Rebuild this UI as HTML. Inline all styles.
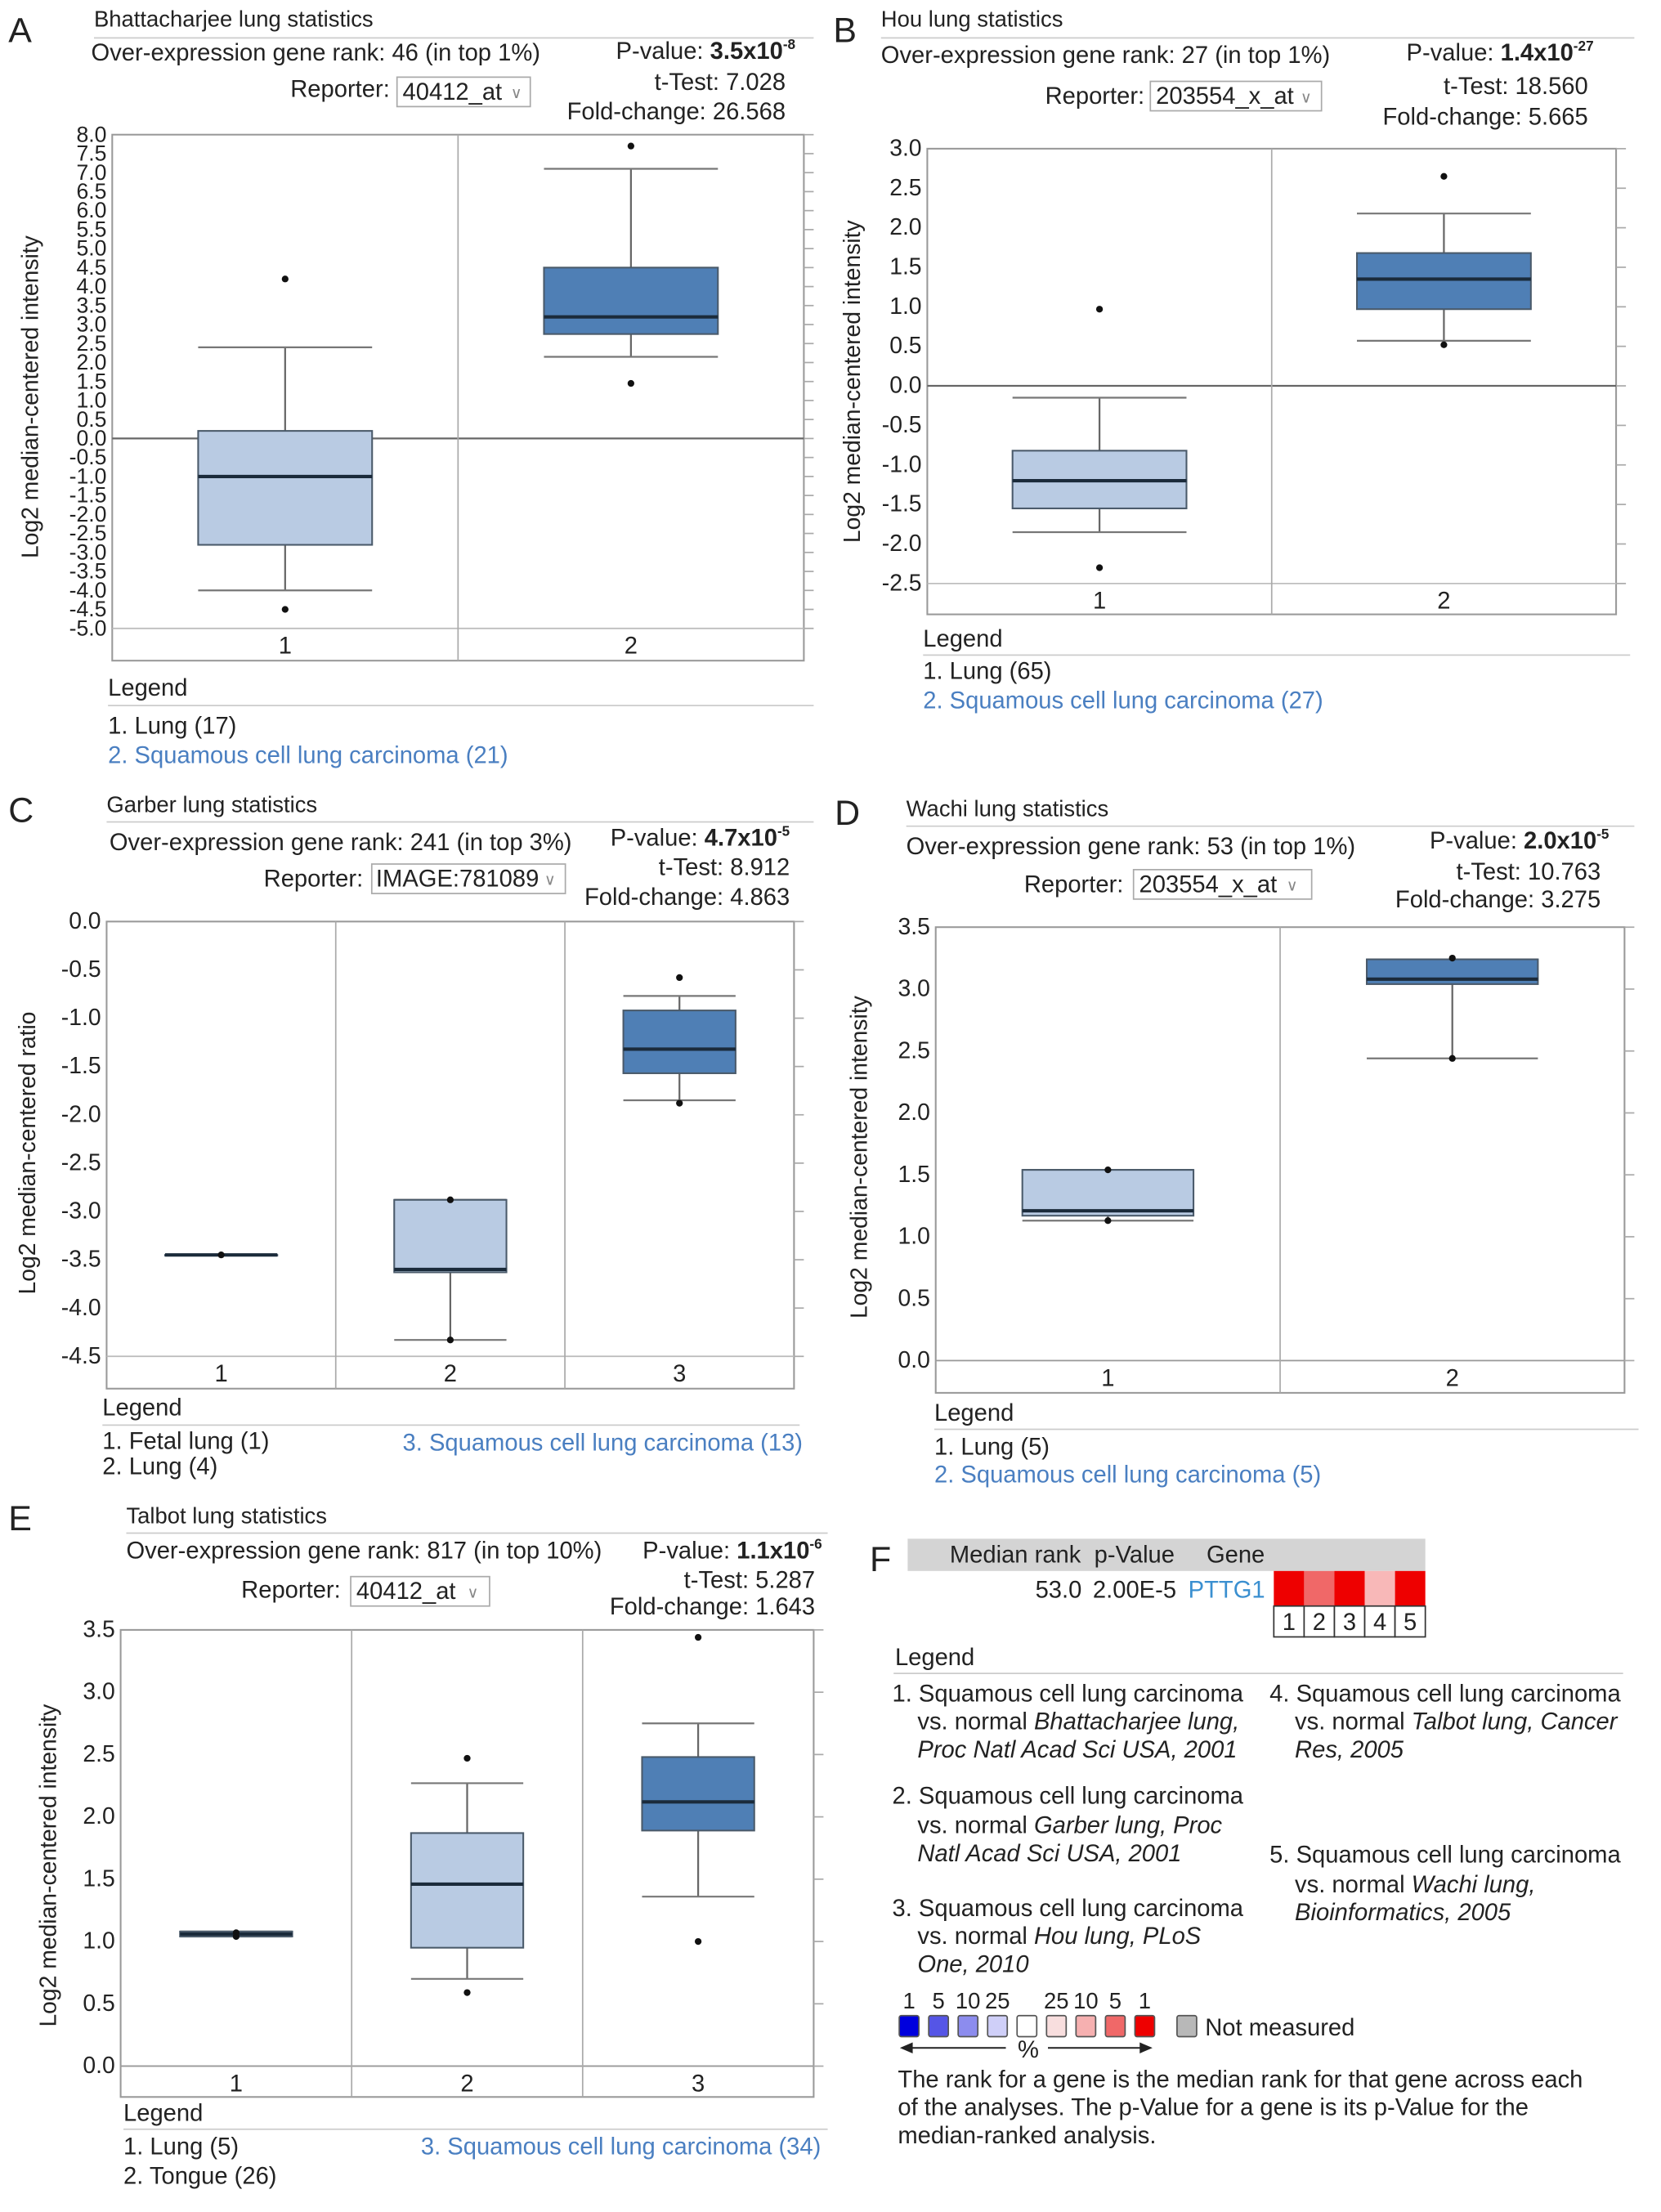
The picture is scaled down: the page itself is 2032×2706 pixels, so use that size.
<!DOCTYPE html>
<html><head><meta charset="utf-8">
<style>
html,body{margin:0;padding:0;background:#fff;}
svg{display:block;font-family:"Liberation Sans",Arial,sans-serif;}
</style></head>
<body>
<svg id="fig" xmlns="http://www.w3.org/2000/svg" width="2032" height="2706" viewBox="0 0 1184 1577" preserveAspectRatio="none">
<rect width="1184" height="1577" fill="#fff"/>
<!-- Panel A header -->
<g font-size="17" fill="#222">
<text x="6" y="30" font-size="25">A</text>
<text x="67" y="19" font-size="16">Bhattacharjee lung statistics</text>
<line x1="67" y1="27" x2="580" y2="27" stroke="#ccc"/>
<text x="65" y="43">Over-expression gene rank: 46 (in top 1%)</text>
<text x="567" y="42" text-anchor="end">P-value:  <tspan font-weight="bold">3.5x10</tspan><tspan font-weight="bold" font-size="10" dy="-7">-8</tspan></text>
<text x="207" y="69">Reporter:</text>
<rect x="283" y="55" width="95" height="21" fill="#fff" stroke="#aaa"/>
<text x="287" y="71">40412_at</text><text x="364" y="70" font-size="11" fill="#888">∨</text>
<text x="560" y="64" text-anchor="end">t-Test: 7.028</text>
<text x="560" y="85" text-anchor="end">Fold-change: 26.568</text>
<text x="77" y="496">Legend</text>
<line x1="77" y1="503" x2="580" y2="503" stroke="#ccc"/>
<text x="77" y="523">1. Lung (17)</text>
<text x="77" y="544" fill="#4a7fc1">2. Squamous cell lung carcinoma (21)</text>
</g>
<!-- Panel B header -->
<g font-size="17" fill="#222">
<text x="594" y="30" font-size="25">B</text>
<text x="628" y="19" font-size="16">Hou lung statistics</text>
<line x1="628" y1="27" x2="1165" y2="27" stroke="#ccc"/>
<text x="628" y="45">Over-expression gene rank: 27 (in top 1%)</text>
<text x="1136" y="43" text-anchor="end">P-value:  <tspan font-weight="bold">1.4x10</tspan><tspan font-weight="bold" font-size="10" dy="-7">-27</tspan></text>
<text x="745" y="74">Reporter:</text>
<rect x="820" y="58" width="122" height="21" fill="#fff" stroke="#aaa"/>
<text x="824" y="74">203554_x_at</text><text x="927" y="73" font-size="11" fill="#888">∨</text>
<text x="1132" y="67" text-anchor="end">t-Test: 18.560</text>
<text x="1132" y="89" text-anchor="end">Fold-change: 5.665</text>
<text x="658" y="461">Legend</text>
<line x1="658" y1="467" x2="1162" y2="467" stroke="#ccc"/>
<text x="658" y="484">1. Lung (65)</text>
<text x="658" y="505" fill="#4a7fc1">2. Squamous cell lung carcinoma (27)</text>
</g>
<!-- Panel C header -->
<g font-size="17" fill="#222">
<text x="6" y="586" font-size="25">C</text>
<text x="76" y="579" font-size="16">Garber lung statistics</text>
<line x1="76" y1="586" x2="580" y2="586" stroke="#ccc"/>
<text x="78" y="606">Over-expression gene rank: 241 (in top 3%)</text>
<text x="563" y="603" text-anchor="end">P-value: <tspan font-weight="bold">4.7x10</tspan><tspan font-weight="bold" font-size="10" dy="-7">-5</tspan></text>
<text x="188" y="632">Reporter:</text>
<rect x="265" y="616" width="138" height="21" fill="#fff" stroke="#aaa"/>
<text x="268" y="632">IMAGE:781089</text><text x="388" y="631" font-size="11" fill="#888">∨</text>
<text x="563" y="624" text-anchor="end">t-Test: 8.912</text>
<text x="563" y="645" text-anchor="end">Fold-change: 4.863</text>
<text x="73" y="1009">Legend</text>
<line x1="73" y1="1016" x2="570" y2="1016" stroke="#ccc"/>
<text x="73" y="1033">1. Fetal lung (1)</text>
<text x="73" y="1051">2. Lung (4)</text>
<text x="287" y="1034" fill="#4a7fc1">3. Squamous cell lung carcinoma (13)</text>
</g>
<!-- Panel D header -->
<g font-size="17" fill="#222">
<text x="595" y="588" font-size="25">D</text>
<text x="646" y="582" font-size="16">Wachi lung statistics</text>
<line x1="646" y1="589" x2="1165" y2="589" stroke="#ccc"/>
<text x="646" y="609">Over-expression gene rank: 53 (in top 1%)</text>
<text x="1147" y="605" text-anchor="end">P-value: <tspan font-weight="bold">2.0x10</tspan><tspan font-weight="bold" font-size="10" dy="-7">-5</tspan></text>
<text x="730" y="636">Reporter:</text>
<rect x="808" y="620" width="127" height="21" fill="#fff" stroke="#aaa"/>
<text x="812" y="636">203554_x_at</text><text x="917" y="635" font-size="11" fill="#888">∨</text>
<text x="1141" y="627" text-anchor="end">t-Test: 10.763</text>
<text x="1141" y="647" text-anchor="end">Fold-change: 3.275</text>
<text x="666" y="1013">Legend</text>
<line x1="666" y1="1019" x2="1168" y2="1019" stroke="#ccc"/>
<text x="666" y="1037">1. Lung (5)</text>
<text x="666" y="1057" fill="#4a7fc1">2. Squamous cell lung carcinoma (5)</text>
</g>
<!-- Panel E header -->
<g font-size="17" fill="#222">
<text x="6" y="1091" font-size="25">E</text>
<text x="90" y="1086" font-size="16">Talbot lung statistics</text>
<line x1="90" y1="1093" x2="590" y2="1093" stroke="#ccc"/>
<text x="90" y="1111">Over-expression gene rank: 817 (in top 10%)</text>
<text x="586" y="1111" text-anchor="end">P-value: <tspan font-weight="bold">1.1x10</tspan><tspan font-weight="bold" font-size="10" dy="-7">-6</tspan></text>
<text x="172" y="1139">Reporter:</text>
<rect x="250" y="1124" width="99" height="21" fill="#fff" stroke="#aaa"/>
<text x="254" y="1140">40412_at</text><text x="333" y="1139" font-size="11" fill="#888">∨</text>
<text x="581" y="1132" text-anchor="end">t-Test: 5.287</text>
<text x="581" y="1151" text-anchor="end">Fold-change: 1.643</text>
<text x="88" y="1512">Legend</text>
<line x1="88" y1="1518" x2="590" y2="1518" stroke="#ccc"/>
<text x="88" y="1536">1. Lung (5)</text>
<text x="88" y="1557">2. Tongue (26)</text>
<text x="300" y="1536" fill="#4a7fc1">3. Squamous cell lung carcinoma (34)</text>
</g>
<!-- Panel F -->
<g font-size="17" fill="#222">
<text x="620" y="1120" font-size="25">F</text>
<rect x="647" y="1097" width="369" height="23" fill="#d4d4d4"/>
<text x="677" y="1114">Median rank</text>
<text x="780" y="1114">p-Value</text>
<text x="860" y="1114">Gene</text>
<text x="738" y="1139">53.0</text>
<text x="779" y="1139">2.00E-5</text>
<text x="847" y="1139" fill="#3a8fd0">PTTG1</text>
<g id="heat"></g>
<text x="638" y="1187">Legend</text>
<line x1="637" y1="1193" x2="1157" y2="1193" stroke="#ccc"/>
<g><text x="636" y="1213">1. Squamous cell lung carcinoma</text><text x="654" y="1233">vs. normal <tspan font-style="italic">Bhattacharjee lung,</tspan></text><text x="654" y="1253" font-style="italic">Proc Natl Acad Sci USA, 2001</text></g>
<g><text x="636" y="1286">2. Squamous cell lung carcinoma</text><text x="654" y="1307">vs. normal <tspan font-style="italic">Garber lung, Proc</tspan></text><text x="654" y="1327" font-style="italic">Natl Acad Sci USA, 2001</text></g>
<g><text x="636" y="1366">3. Squamous cell lung carcinoma</text><text x="654" y="1386">vs. normal <tspan font-style="italic">Hou lung, PLoS</tspan></text><text x="654" y="1406" font-style="italic">One, 2010</text></g>
<g><text x="905" y="1213">4. Squamous cell lung carcinoma</text><text x="923" y="1233">vs. normal <tspan font-style="italic">Talbot lung, Cancer</tspan></text><text x="923" y="1253" font-style="italic">Res, 2005</text></g>
<g><text x="905" y="1328">5. Squamous cell lung carcinoma</text><text x="923" y="1349">vs. normal <tspan font-style="italic">Wachi lung,</tspan></text><text x="923" y="1369" font-style="italic">Bioinformatics, 2005</text></g>
<g id="scale"></g>
<text x="859" y="1451">Not measured</text>
<g stroke="#222" stroke-width="1.2">
<line x1="645" y1="1460" x2="717" y2="1460"/><path d="M643,1460 l7,-3 v6z" fill="#222"/>
<line x1="747" y1="1460" x2="818" y2="1460"/><path d="M820,1460 l-7,-3 v6z" fill="#222"/>
</g>
<text x="733" y="1467" text-anchor="middle">%</text>
<g><text x="640" y="1488">The rank for a gene is the median rank for that gene across each</text><text x="640" y="1508">of the analyses. The p-Value for a gene is its p-Value for the</text><text x="640" y="1528">median-ranked analysis.</text></g>
</g>
</svg>
<script>
// ---- Panel A data
const aCategories = ["1", "2"];
const aQ1 = [-2.8, 2.75];
const aMedian = [-1.0, 3.2];
const aQ3 = [0.2, 4.5];
const aWhiskLo = [-4.0, 2.15];
const aWhiskHi = [2.4, 7.1];
const aOutliers = [[4.2, -4.5], [7.7, 1.45]];
const aTicks = ["8.0","7.5","7.0","6.5","6.0","5.5","5.0","4.5","4.0","3.5","3.0","2.5","2.0","1.5","1.0","0.5","0.0","-0.5","-1.0","-1.5","-2.0","-2.5","-3.0","-3.5","-4.0","-4.5","-5.0"];
// ---- Panel B data
const bCategories = ["1", "2"];
const bQ1 = [-1.55, 0.97];
const bMedian = [-1.2, 1.35];
const bQ3 = [-0.82, 1.68];
const bWhiskLo = [-1.85, 0.57];
const bWhiskHi = [-0.15, 2.18];
const bOutliers = [[0.97, -2.3], [2.65, 0.52]];
const bTicks = ["3.0","2.5","2.0","1.5","1.0","0.5","0.0","-0.5","-1.0","-1.5","-2.0","-2.5"];
// ---- Panel C data
const cCategories = ["1", "2", "3"];
const cQ1 = [-3.45, -3.63, -1.57];
const cMedian = [-3.45, -3.6, -1.32];
const cQ3 = [-3.45, -2.88, -0.92];
const cWhiskLo = [-3.45, -4.33, -1.85];
const cWhiskHi = [-3.45, -2.88, -0.77];
const cOutliers = [[-3.45], [-2.88, -4.33], [-0.58, -1.88]];
const cTicks = ["0.0","-0.5","-1.0","-1.5","-2.0","-2.5","-3.0","-3.5","-4.0","-4.5"];
// ---- Panel D data
const dCategories = ["1", "2"];
const dQ1 = [1.17, 3.04];
const dMedian = [1.21, 3.08];
const dQ3 = [1.54, 3.24];
const dWhiskLo = [1.13, 2.44];
const dWhiskHi = [1.54, 3.24];
const dOutliers = [[1.54, 1.13], [3.25, 2.44]];
const dTicks = ["3.5","3.0","2.5","2.0","1.5","1.0","0.5","0.0"];
// ---- Panel E data
const eCategories = ["1", "2", "3"];
const eQ1 = [1.04, 0.95, 1.89];
const eMedian = [1.06, 1.46, 2.12];
const eQ3 = [1.08, 1.87, 2.48];
const eWhiskLo = [1.04, 0.7, 1.36];
const eWhiskHi = [1.08, 2.27, 2.75];
const eOutliers = [[1.07, 1.04], [2.47, 0.59], [3.44, 1.0]];
const eTicks = ["3.5","3.0","2.5","2.0","1.5","1.0","0.5","0.0"];
const eDark = [false, false, true];
// ---- Panel F data
const fHeatValues = [1, 5, 1, 10, 1];
const fHeatLabels = ["1","2","3","4","5"];
const fScaleLabels = ["1","5","10","25","","25","10","5","1"];
const fScaleColors = ["#0000dd","#5555e6","#8c8cee","#cfcff8","#ffffff","#f8dede","#f6b0b0","#f06868","#ee0000"];

const NS = "http://www.w3.org/2000/svg";
const svg = document.getElementById("fig");
function mk(tag, parent, attrs) {
  const e = document.createElementNS(NS, tag);
  for (const k in attrs) e.setAttribute(k, attrs[k]);
  parent.appendChild(e);
  return e;
}

function boxPanel(id, P, cats, q1, med, q3, wlo, whi, outs, ticks, dark, ytitle) {
  const g = mk("g", svg, {});
  
  
  const vMax = parseFloat(ticks[0]), vMin = parseFloat(ticks[ticks.length - 1]);
  const y = v => P.yTop + (vMax - v) / (vMax - vMin) * (P.yBot - P.yTop);
  const n = cats.length, cw = (P.x1 - P.x0) / n;
  const xc = i => P.x0 + cw * (i + 0.5);
  const fr = mk("rect", g, {x: P.x0, y: P.y0, width: P.x1 - P.x0, height: P.y1 - P.y0, fill: "#fff", stroke: "#999", "stroke-width": 1.2});
  
  
  ticks.forEach(t => {
    const v = parseFloat(t), yy = y(v);
    const tk = mk("line", g, {x1: P.x1, x2: P.x1 + 7, y1: yy, y2: yy, stroke: "#aaa"});
    
    
    const tl = mk("text", g, {x: P.x0 - 4, y: yy + 5, "text-anchor": "end", "font-size": P.fs, fill: "#222"});
    tl.textContent = t;
    
    
  });
  mk("line", g, {x1: P.x0, x2: P.x1, y1: P.yBot, y2: P.yBot, stroke: "#bbb"});
  if (vMin < 0 && vMax > 0) {
    const z = mk("line", g, {x1: P.x0, x2: P.x1, y1: y(0), y2: y(0), stroke: "#666", "stroke-width": 1.3});
    
    
  }
  if (vMin === 0) mk("line", g, {x1: P.x0, x2: P.x1, y1: y(0), y2: y(0), stroke: "#999"});
  for (let i = 1; i < n; i++) mk("line", g, {x1: P.x0 + cw * i, x2: P.x0 + cw * i, y1: P.y0, y2: P.y1, stroke: "#aaa"});
  const bw = P.bw;
  cats.forEach((c, i) => {
    const cx = xc(i);
    const bg = mk("g", g, {});
    
    
    mk("line", bg, {x1: cx, x2: cx, y1: y(whi[i]), y2: y(q3[i]), stroke: "#666", "stroke-width": 1.3});
    mk("line", bg, {x1: cx, x2: cx, y1: y(q1[i]), y2: y(wlo[i]), stroke: "#666", "stroke-width": 1.3});
    mk("line", bg, {x1: cx - bw, x2: cx + bw, y1: y(whi[i]), y2: y(whi[i]), stroke: "#777", "stroke-width": 1.3});
    mk("line", bg, {x1: cx - bw, x2: cx + bw, y1: y(wlo[i]), y2: y(wlo[i]), stroke: "#777", "stroke-width": 1.3});
    const h = Math.max(y(q1[i]) - y(q3[i]), 0.5);
    mk("rect", bg, {x: cx - bw, y: y(q3[i]), width: 2 * bw, height: h, fill: dark[i] ? "#4f7fb5" : "#b9cbe3", stroke: "#4a5a6a", "stroke-width": 1.2});
    mk("line", bg, {x1: cx - bw, x2: cx + bw, y1: y(med[i]), y2: y(med[i]), stroke: "#1b2b3b", "stroke-width": 2.4});
    outs[i].forEach(o => {
      const d = mk("circle", bg, {cx: cx, cy: y(o), r: 2.4, fill: "#111"});
      
      
    });
    const cl = mk("text", g, {x: cx, y: P.yBot + 18, "text-anchor": "middle", "font-size": 17, fill: "#222"});
    cl.textContent = c;
    
    
  });
  const yt = mk("text", g, {x: P.tx, y: P.ty, "text-anchor": "middle", "font-size": 16.5, fill: "#222", transform: "rotate(-90 " + P.tx + " " + P.ty + ")"});
  yt.textContent = ytitle;
  
  
}

boxPanel("a", {x0: 80, x1: 573, y0: 96, y1: 471, yTop: 96, yBot: 448, bw: 62, fs: 15.5, tx: 27, ty: 283}, aCategories, aQ1, aMedian, aQ3, aWhiskLo, aWhiskHi, aOutliers, aTicks, [false, true], "Log2 median-centered intensity");
boxPanel("b", {x0: 661, x1: 1152, y0: 106, y1: 438, yTop: 106, yBot: 416, bw: 62, fs: 16.5, tx: 613, ty: 272}, bCategories, bQ1, bMedian, bQ3, bWhiskLo, bWhiskHi, bOutliers, bTicks, [false, true], "Log2 median-centered intensity");
boxPanel("c", {x0: 76, x1: 566, y0: 657, y1: 990, yTop: 657, yBot: 967, bw: 40, fs: 16.5, tx: 25, ty: 822}, cCategories, cQ1, cMedian, cQ3, cWhiskLo, cWhiskHi, cOutliers, cTicks, [false, false, true], "Log2 median-centered ratio");
boxPanel("d", {x0: 667, x1: 1158, y0: 661, y1: 993, yTop: 661, yBot: 970, bw: 61, fs: 16.5, tx: 618, ty: 825}, dCategories, dQ1, dMedian, dQ3, dWhiskLo, dWhiskHi, dOutliers, dTicks, [false, true], "Log2 median-centered intensity");
boxPanel("e", {x0: 86, x1: 580, y0: 1162, y1: 1495, yTop: 1162, yBot: 1473, bw: 40, fs: 16.5, tx: 40, ty: 1330}, eCategories, eQ1, eMedian, eQ3, eWhiskLo, eWhiskHi, eOutliers, eTicks, eDark, "Log2 median-centered intensity");

const heat = document.getElementById("heat");
const heatColor = {1: "#ee0000", 5: "#f06868", 10: "#f8b8b8", 25: "#f8dede"};
fHeatValues.forEach((v, i) => {
  const x = 908 + i * 21.6;
  const c = mk("rect", heat, {x: x, y: 1120, width: 21.6, height: 25, fill: heatColor[v]});
  
  
  mk("rect", heat, {x: x, y: 1145, width: 21.6, height: 22, fill: "#fff", stroke: "#333", "stroke-width": 1});
  const t = mk("text", heat, {x: x + 10.8, y: 1162, "text-anchor": "middle", "font-size": 17, fill: "#222"});
  t.textContent = fHeatLabels[i];
  
  
});
const scale = document.getElementById("scale");
fScaleColors.forEach((c, i) => {
  const cx = 648 + i * 21;
  const r = mk("rect", scale, {x: cx - 7, y: 1437, width: 14, height: 15, fill: c, stroke: "#555", "stroke-width": 1, rx: 1.5});
  
  
  if (fScaleLabels[i]) {
    const t = mk("text", scale, {x: cx, y: 1432, "text-anchor": "middle", "font-size": 16, fill: "#222"});
    t.textContent = fScaleLabels[i];
    
    
  }
});
const nm = mk("rect", scale, {x: 839, y: 1437, width: 14, height: 15, fill: "#b8b8b8", stroke: "#555", rx: 1.5});


</script>
</body></html>
